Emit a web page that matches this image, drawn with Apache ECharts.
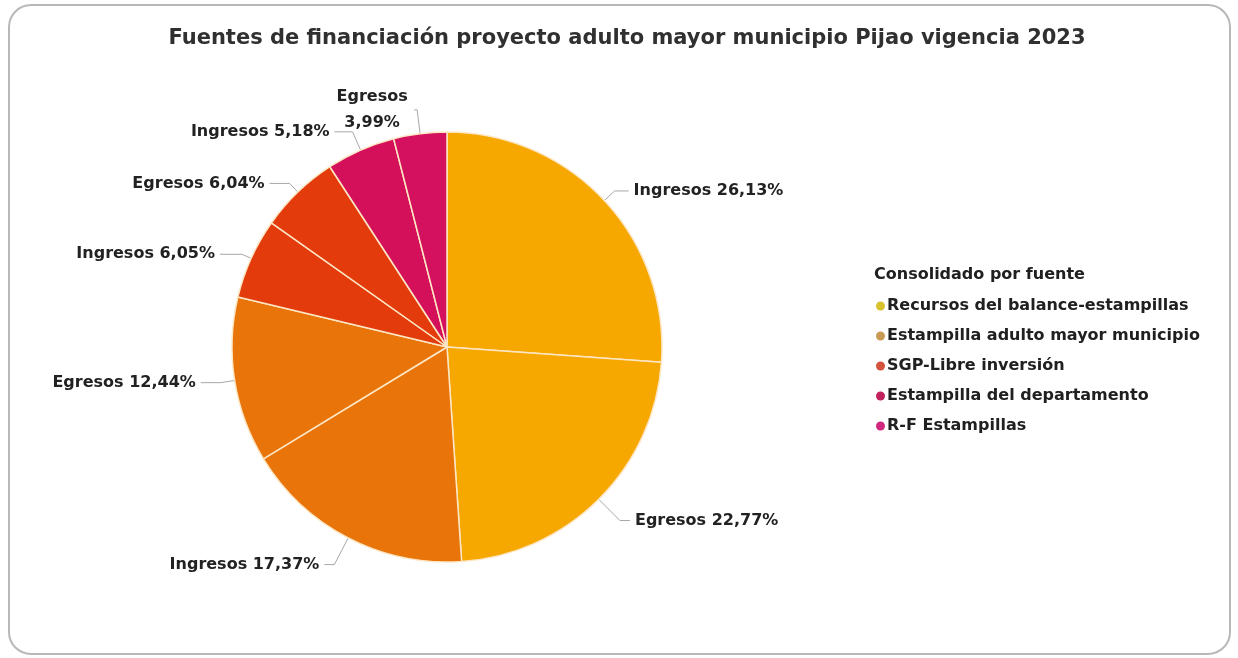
<!DOCTYPE html>
<html>
<head>
<meta charset="utf-8">
<script src="https://cdn.jsdelivr.net/npm/echarts@6/dist/echarts.min.js"></script>
<style>
  html, body { margin: 0; padding: 0; background: #ffffff; }
  #chart { width: 1238px; height: 658px; }
</style>
</head>
<body>
<div id="chart"></div>
<script>
// Funding sources (legend categories)
const sources = [
  'Recursos del balance-estampillas',
  'Estampilla adulto mayor municipio',
  'SGP-Libre inversión',
  'Estampilla del departamento',
  'R-F Estampillas'
];
const sourceColors = ['#d8c22e', '#c99a55', '#d2523e', '#c0225e', '#d0287e'];

// Pie slices, clockwise from 12 o'clock
const sliceTypes   = ['Ingresos', 'Egresos', 'Ingresos', 'Egresos', 'Ingresos', 'Egresos', 'Ingresos', 'Egresos'];
const sliceSource  = [0, 0, 1, 1, 2, 2, 3, 4];
const sliceValues  = [26.13, 22.77, 17.37, 12.44, 6.05, 6.04, 5.18, 3.99];
const sliceColors  = ['#f7a800', '#f7a800', '#e8740a', '#e8740a', '#e33b0b', '#e33b0b', '#d5105a', '#d4115e'];

// Leader line segments per slice: [radial, horizontal]
const leaderLens = [[14, 14], [30, 10], [30, 10], [14, 20], [10, 22], [12, 20], [20, 18], [24, 3]];

const fmt = v => v.toFixed(2).replace('.', ',') + '%';

const sliceData = sliceValues.map((v, i) => {
  const item = {
    name: sources[sliceSource[i]] + ' · ' + sliceTypes[i],
    value: v,
    kind: sliceTypes[i],
    itemStyle: { color: sliceColors[i] },
    labelLine: { length: leaderLens[i][0], length2: leaderLens[i][1] }
  };
  if (i === sliceValues.length - 1) {
    item.label = {
      formatter: p => '{c|' + p.data.kind + '}\n{c|' + fmt(p.value) + '}',
      rich: { c: { width: 74, align: 'center', fontFamily: '"DejaVu Sans", sans-serif', fontSize: 16, fontWeight: 'bold', color: '#222222', lineHeight: 26 } }
    };
  }
  return item;
});

// Totals per source feed the legend entries
const sourceTotals = sources.map((s, k) =>
  sliceValues.reduce((acc, v, i) => acc + (sliceSource[i] === k ? v : 0), 0));

const chart = echarts.init(document.getElementById('chart'), null, { renderer: 'canvas' });

const labelFont = '"DejaVu Sans", "Noto Sans", sans-serif';

chart.setOption({
  animation: false,
  backgroundColor: '#ffffff',
  title: [
    {
      text: 'Fuentes de financiación proyecto adulto mayor municipio Pijao vigencia 2023',
      left: 622, top: 23, textAlign: 'center',
      textStyle: { fontFamily: labelFont, fontSize: 21, fontWeight: 'bold', color: '#303030' }
    },
    {
      text: 'Consolidado por fuente',
      left: 869, top: 262,
      textStyle: { fontFamily: labelFont, fontSize: 16, fontWeight: 'bold', color: '#202020' }
    }
  ],
  legend: {
    orient: 'vertical',
    left: 871, top: 293,
    itemWidth: 9, itemHeight: 9, itemGap: 14,
    icon: 'circle',
    selectedMode: false,
    data: sources,
    textStyle: { fontFamily: labelFont, fontSize: 16, fontWeight: 'bold', color: '#202020', padding: [0, 0, 0, -3] }
  },
  graphic: [{
    type: 'rect',
    shape: { x: 9, y: 5, width: 1221, height: 649, r: 22 },
    style: { fill: 'none', stroke: '#b8b8b8', lineWidth: 2 },
    silent: true, z: -1
  }],
  series: [
    {
      type: 'pie',
      center: [447, 347],
      radius: [0, 215],
      startAngle: 90,
      clockwise: true,
      avoidLabelOverlap: false,
      labelLayout: { hideOverlap: false },
      legendHoverLink: false,
      itemStyle: { borderColor: '#fde6c4', borderWidth: 1.5 },
      label: {
        show: true,
        formatter: p => p.data.kind + ' ' + fmt(p.value),
        fontFamily: labelFont, fontSize: 16, fontWeight: 'bold', color: '#222222',
        lineHeight: 26
      },
      labelLine: { show: true, length: 14, length2: 14, lineStyle: { color: '#a8a8a8', width: 1 } },
      data: sliceData
    },
    {
      // Invisible series carrying the legend categories and their colours
      type: 'pie',
      center: [447, 347],
      radius: [0, 0],
      silent: true,
      label: { show: false },
      labelLine: { show: false },
      data: sources.map((s, k) => ({ name: s, value: sourceTotals[k], itemStyle: { color: sourceColors[k] } }))
    }
  ]
});
</script>
</body>
</html>
